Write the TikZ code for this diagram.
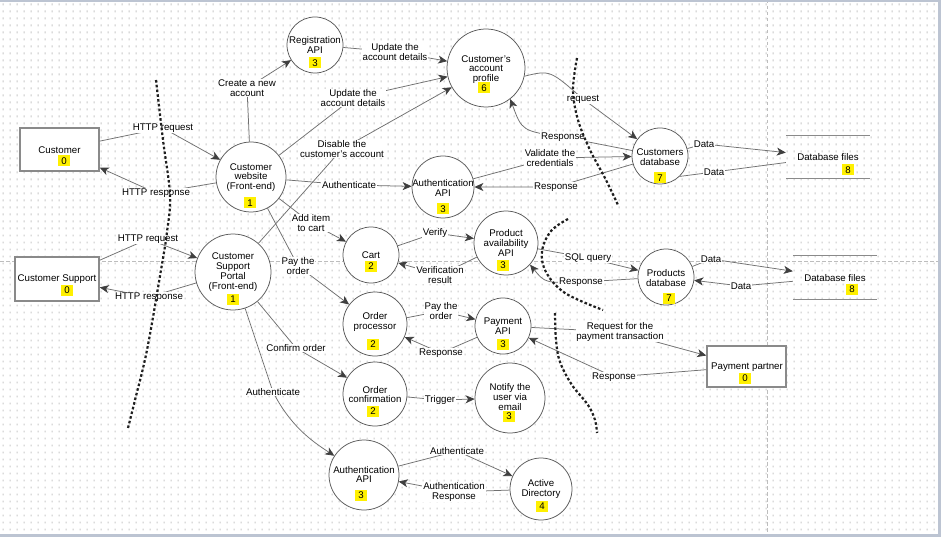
\documentclass[tikz,border=0pt]{standalone}
\usepackage{fontspec}
\setmainfont{Liberation Sans}
\usetikzlibrary{arrows.meta}
\definecolor{lnc}{HTML}{707070}
\definecolor{arc}{HTML}{3F3F3F}
\definecolor{circc}{HTML}{5A5A5A}
\definecolor{boxc}{HTML}{8A8A8A}
\definecolor{numy}{HTML}{FFF000}
\definecolor{dotc}{HTML}{C8C8C8}
\definecolor{pgc}{HTML}{BDBDBD}
\definecolor{barc}{HTML}{BCC4D2}
\newcommand\dffs{\fontsize{9.7}{9.8}\selectfont}
\tikzset{
  proc/.style={circle, draw=circc, line width=0.75pt, fill=white, inner sep=0pt, minimum size=#1},
  ent/.style={rectangle, draw=boxc, line width=1.5pt, fill=white, inner sep=0pt},
  store/.style={rectangle, inner sep=0pt, minimum width=84pt, minimum height=42pt},
  txt/.style={align=center, inner sep=0pt, text=black},
  num/.style={fill=numy, inner sep=0pt, minimum width=12pt, minimum height=11pt, text=black},
  lbl/.style={fill=white, inner sep=0.8pt, align=center, text=black},
  flow/.style={draw=lnc, line width=0.75pt, -{Stealth[length=9pt,width=8pt,inset=2.5pt,color=arc]}},
  plainflow/.style={draw=lnc, line width=0.75pt},
  bnd/.style={draw=black!88, line width=2.2pt, dash pattern=on 2.6pt off 2.2pt},
  pgb/.style={draw=pgc, line width=0.7pt, dash pattern=on 3.5pt off 2.5pt},
  storeline/.style={draw=boxc, line width=1.2pt}
}
\begin{document}
\begin{tikzpicture}[x=1pt, y=-1pt, font=\dffs]
\useasboundingbox (0,0) rectangle (941,537);
\fill[white] (0,0) rectangle (941,537);
% dot grid
\foreach \i in {0,...,133} {
  \fill[dotc] \foreach \j in {0,...,76} {(\i*7+2.5,\j*7+3.5) rectangle ++(1.1,1.8)};
}
% page breaks
\draw[pgb] (767.5,0) -- (767.5,537);
\draw[pgb] (0,261) -- (938,261);
% frame bars
\fill[barc] (0,0) rectangle (941,2);
\fill[barc] (0,534) rectangle (941,537);
\fill[barc] (938,0) rectangle (941,537);

% ---------- entities ----------
\node[ent, minimum width=79pt, minimum height=43pt] (cust) at (59.5,149.5) {};
\node[txt] (custt) at (59.5,150) {Customer};
\node[num] (custn) at (64,161) {0};

\node[ent, minimum width=84pt, minimum height=44pt] (supp) at (57,279) {};
\node[txt] (suppt) at (57,279) {Customer Support};
\node[num] (suppn) at (67,290) {0};

\node[ent, minimum width=79pt, minimum height=41pt] (pp) at (746.5,366.5) {};
\node[txt] (ppt) at (747,367) {Payment partner};
\node[num] (ppn) at (745,378) {0};

% ---------- stores ----------
\node[store] (dbf1) at (828,157) {};
\draw[storeline] (dbf1.north west) -- (dbf1.north east) (dbf1.south west) -- (dbf1.south east);
\node[txt] (dbf1t) at (828,157) {Database files};
\node[num] (dbf1n) at (848,170) {8};

\node[store, minimum height=43pt] (dbf2) at (835,277.5) {};
\draw[storeline] (dbf2.north west) -- (dbf2.north east) (dbf2.south west) -- (dbf2.south east);
\node[txt] (dbf2t) at (835,278) {Database files};
\node[num] (dbf2n) at (852,289) {8};

% ---------- processes ----------
\node[proc=70pt] (web) at (251,177) {};
\node[txt] (webt) at (251,177.5) {Customer\\website\\(Front-end)};
\node[num] (webn) at (250,203) {1};

\node[proc=56pt] (reg) at (315,45) {};
\node[txt] (regt) at (315,45) {Registration\\API};
\node[num] (regn) at (315,63) {3};

\node[proc=78pt] (prof) at (486,68) {};
\node[txt] (proft) at (486,69.5) {Customer's\\account\\profile};
\node[num] (profn) at (484,88) {6};

\node[proc=62pt] (auth1) at (443,187) {};
\node[txt] (auth1t) at (443,188) {Authentication\\API};
\node[num] (auth1n) at (443,209) {3};

\node[proc=56pt] (cdb) at (660,156) {};
\node[txt] (cdbt) at (660,157) {Customers\\database};
\node[num] (cdbn) at (660,178) {7};

\node[proc=76pt] (portal) at (233,272) {};
\node[txt] (portalt) at (233,272) {Customer\\Support\\Portal\\(Front-end)};
\node[num] (portaln) at (233,299) {1};

\node[proc=56pt] (cart) at (371,255) {};
\node[txt] (cartt) at (371,255) {Cart};
\node[num] (cartn) at (371,266) {2};

\node[proc=64pt] (pav) at (506,243) {};
\node[txt] (pavt) at (506,243) {Product\\availability\\API};
\node[num] (pavn) at (503,265) {3};

\node[proc=56pt] (pdb) at (666,277) {};
\node[txt] (pdbt) at (666,278) {Products\\database};
\node[num] (pdbn) at (669,298) {7};

\node[proc=64pt] (op) at (375,324) {};
\node[txt] (opt) at (375,322) {Order\\processor};
\node[num] (opn) at (373,344) {2};

\node[proc=56pt] (pay) at (503,326) {};
\node[txt] (payt) at (503,326.5) {Payment\\API};
\node[num] (payn) at (503,344) {3};

\node[proc=64pt] (oc) at (375,394) {};
\node[txt] (oct) at (375,394.5) {Order\\confirmation};
\node[num] (ocn) at (373,411) {2};

\node[proc=70pt] (notify) at (510,398) {};
\node[txt] (notifyt) at (510,397) {Notify the\\user via\\email};
\node[num] (notifyn) at (509,416) {3};

\node[proc=70pt] (auth2) at (364,475) {};
\node[txt] (auth2t) at (364,474.5) {Authentication\\API};
\node[num] (auth2n) at (361,495) {3};

\node[proc=62pt] (ad) at (541,489) {};
\node[txt] (adt) at (541,489) {Active\\Directory};
\node[num] (adn) at (542,506) {4};

% ---------- flows ----------
\draw[flow] (cust) -- (163,128) node[lbl] (l1) {HTTP request} -- (web);
\draw[flow] (web) -- (156,193) node[lbl] (l2) {HTTP response} -- (cust);
\draw[flow] (web) -- (247,88) node[lbl] (l3) {Create a new\\account} -- (reg);
\draw[flow] (reg) -- (395,52) node[lbl] (l4) {Update the\\account details} -- (prof);
\draw[flow] (web) -- (353,98) node[lbl] (l5) {Update the\\account details} -- (prof);
\draw[flow] (portal) -- (342,149) node[lbl] (l6) {Disable the\\customer's account} -- (prof);
\draw[flow] (web) -- (349,185) node[lbl] (l7) {Authenticate} -- (auth1);
\draw[flow] (web) -- (311,223) node[lbl] (l8) {Add item\\to cart} -- (cart);
\draw[flow] (web) -- (298,266) node[lbl] (l9) {Pay the\\order} -- (op);
\draw[flow] (supp) -- (148,239) node[lbl] (l10) {HTTP request} -- (portal);
\draw[flow] (portal) -- (149,297) node[lbl] (l11) {HTTP response} -- (supp);
\draw[flow] (portal) -- (296,348) node[lbl] (l12) {Confirm order} -- (oc);
\draw[flow] (portal) -- (273,392) node[lbl] (l13) {Authenticate} .. controls (290,425) and (310,440) .. (auth2);
\draw[flow] (cart) -- (435,233) node[lbl] (l14) {Verify} -- (pav);
\draw[flow] (pav) -- (440,275) node[lbl] (l15) {Verification\\result} -- (cart);
\draw[flow] (pav) -- (588,258) node[lbl] (l16) {SQL query} -- (pdb);
\draw[flow] (pdb) -- (581,282) node[lbl] (l17) {Response} .. controls (545,283) .. (pav.-42);
\draw[flow] (pdb) -- (711,259) node[lbl] (l18) {Data} -- (dbf2);
\draw[flow] (dbf2) -- (741,286) node[lbl] (l19) {Data} -- (pdb);
\draw[flow] (op) -- (441,311) node[lbl] (l20) {Pay the\\order} -- (pay);
\draw[flow] (pay) -- (441,353) node[lbl] (l21) {Response} -- (op);
\draw[flow] (pay) -- (620,332) node[lbl] (l22) {Request for the\\payment transaction} -- (pp);
\draw[flow] (pp) -- (614,377) node[lbl] (l23) {Response} -- (pay);
\draw[flow] (oc) -- (440,400) node[lbl] (l24) {Trigger} -- (notify);
\draw[flow] (auth2) -- (457,451) node[lbl] (l25) {Authenticate} -- (ad);
\draw[flow] (ad) -- (454,492) node[lbl] (l26) {Authentication\\Response} -- (auth2);
\draw[flow] (prof.-12) .. controls (550,70) .. (583,99) node[lbl] (l27) {request} -- (cdb);
\draw[flow] (cdb) -- (563,137) node[lbl] (l28) {Response} .. controls (522,131) .. (prof.-52);
\draw[flow] (auth1) -- (550,158) node[lbl] (l29) {Validate the\\credentials} -- (cdb);
\draw[flow] (cdb) -- (556,187) node[lbl] (l30) {Response} -- (auth1);
\draw[flow] (cdb) -- (704,144) node[lbl] (l31) {Data} -- (dbf1);
\draw[plainflow] (cdb.-46) -- (714,172) node[lbl] (l32) {Data} -- (dbf1);

% ---------- trust boundaries ----------
\draw[bnd] plot[smooth, tension=0.6] coordinates {(156,80) (163,140) (170,195) (167,232) (161,270) (147,350) (135,400) (128,428)};
\draw[bnd] plot[smooth, tension=0.6] coordinates {(577,58) (573,90) (578,120) (590,150) (605,178) (618,205)};
\draw[bnd] plot[smooth, tension=0.6] coordinates {(568,219) (551,231) (542,251) (546,272) (565,293) (603,310)};
\draw[bnd] plot[smooth, tension=0.6] coordinates {(555,313) (556,340) (560,362) (572,385) (588,405) (595,420) (597,433)};
\end{tikzpicture}
\end{document}
